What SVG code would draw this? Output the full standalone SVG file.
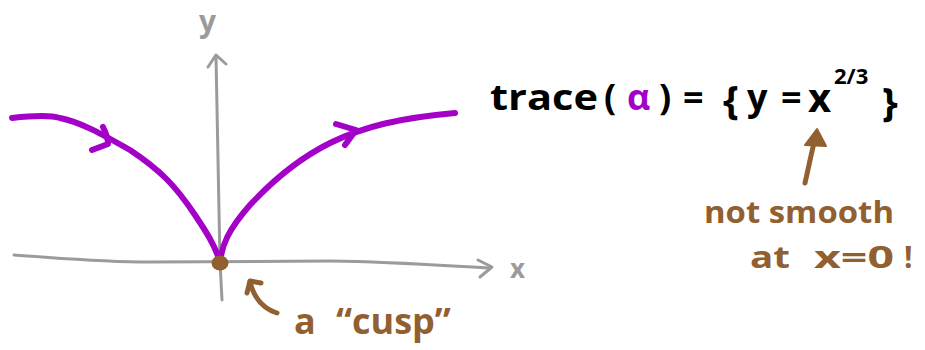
<svg xmlns="http://www.w3.org/2000/svg" width="925" height="350" viewBox="0 0 925 350">
<style>
.ax{fill:none;stroke:#9b9b9b;stroke-width:3;stroke-linecap:round;stroke-linejoin:round}
.cv{fill:none;stroke:#a300c8;stroke-width:6;stroke-linecap:round;stroke-linejoin:round}
.br{fill:none;stroke:#925f30;stroke-width:5;stroke-linecap:round;stroke-linejoin:round}
.t{font-family:"Open Sans","Liberation Sans",sans-serif;font-weight:bold}
.blk{fill:#000}
.brt{fill:#925f30}
.gr{fill:#9b9b9b}
</style>
<rect width="925" height="350" fill="#fff"/>
<g id="axes">
<path class="ax" d="M14,255 C60,258 100,262 150,262 L330,261 C400,262 450,266 490,268"/>
<path class="ax" d="M478,260 L492,267 L480,277"/>
<path class="ax" d="M216,56 C218,130 219,200 220,262 L222,300"/>
<path class="ax" d="M208,67 L216,55 L226,64"/>
<text class="t gr" x="199" y="32" font-size="30">y</text>
<text class="t gr" x="510" y="278" font-size="26">x</text>
</g>
<g id="curve">
<path class="cv" d="M12,118 C30,116 50,115 60,118 C80,122 100,133 130,150 C160,170 175,185 195,215 C205,230 215,245 220,262"/>
<path class="cv" d="M103,127 C106,133 108,140 108,144 L92,150"/>
<path class="cv" d="M220,262 C222,245 228,230 250,205 C275,178 300,158 330,143 C365,126 400,118 455,113"/>
<path class="cv" d="M336,124 L356,130 L345,145"/>
</g>
<g id="cusp">
<ellipse cx="220" cy="263" rx="8.5" ry="7.5" fill="#925f30"/>
<path class="br" d="M277,313 C262,308 254,298 250,282"/>
<path class="br" d="M247,293 L250,281 L261,283"/>
<text class="t brt" x="294" y="334" font-size="36">a</text>
<text class="t brt" x="336" y="334" font-size="36">“cusp”</text>
</g>
<g id="formula">
<text class="t blk" x="490" y="110" font-size="36" textLength="108" lengthAdjust="spacingAndGlyphs">trace</text>
<text class="t blk" x="604" y="110" font-size="36">(</text>
<text class="t" x="627" y="110" font-size="36" fill="#a300c8">α</text>
<text class="t blk" x="659" y="110" font-size="36">)</text>
<text class="t blk" x="683" y="110" font-size="36">=</text>
<text class="t blk" x="723" y="114" font-size="40">{</text>
<text class="t blk" x="747" y="110" font-size="36">y</text>
<text class="t blk" x="781" y="110" font-size="36">=</text>
<text class="t blk" x="808" y="112" font-size="40">x</text>
<text class="t blk" x="834" y="84" font-size="22">2/3</text>
<text class="t blk" x="882" y="116" font-size="40">}</text>
</g>
<g id="note">
<path class="br" d="M805,183 C808,170 811,155 814,143"/>
<path d="M805,145 L817,129 L826,146 Z" fill="#925f30" stroke="#925f30" stroke-width="2" stroke-linejoin="round"/>
<text class="t brt" x="704" y="223" font-size="30" textLength="190" lengthAdjust="spacingAndGlyphs">not smooth</text>
<text class="t brt" x="750" y="268" font-size="30" textLength="40" lengthAdjust="spacingAndGlyphs">at</text>
<text class="t brt" x="814" y="268" font-size="30" textLength="80" lengthAdjust="spacingAndGlyphs">x=0</text>
<text class="t brt" x="904" y="268" font-size="30">!</text>
</g>
</svg>
